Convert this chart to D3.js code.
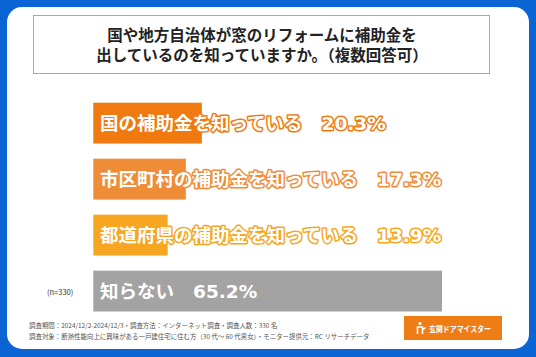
<!DOCTYPE html>
<html>
<head>
<meta charset="utf-8">
<script src="https://cdn.jsdelivr.net/npm/d3@7"></script>
<style>
  html, body { margin: 0; padding: 0; background: #0b64d4; }
  svg { display: block; font-family: "Noto Sans CJK JP", "Noto Sans", sans-serif; }
</style>
</head>
<body>
<div id="chart"></div>
<script>
// データ
const labels = ["国の補助金を知っている", "市区町村の補助金を知っている", "都道府県の補助金を知っている", "知らない"];
const values = [20.3, 17.3, 13.9, 65.2];
const colors = ["#f07a10", "#ef8c38", "#f6a621", "#a3a3a3"];
const titleLines = ["国や地方自治体が窓のリフォームに補助金を", "出しているのを知っていますか。（複数回答可）"];
const noteLines = [
  "調査期間：2024/12/2-2024/12/3・調査方法：インターネット調査・調査人数：330 名",
  "調査対象：断熱性能向上に興味がある一戸建住宅に住む方（30 代～ 60 代男女）・モニター提供元：RC リサーチデータ"
];

const width = 536, height = 357;
const svg = d3.select("#chart").append("svg").attr("width", width).attr("height", height);

// 背景
svg.append("rect").attr("width", width).attr("height", height).attr("fill", "#0b64d4");
svg.append("rect").attr("x", 7).attr("y", 7).attr("width", 522).attr("height", 342)
  .attr("rx", 15).attr("fill", "#fff");

// タイトル枠
svg.append("rect").attr("x", 33.5).attr("y", 15.5).attr("width", 456).attr("height", 58)
  .attr("fill", "#fff").attr("stroke", "#a8a8a8").attr("stroke-width", 1);
svg.append("g").selectAll("text").data(titleLines).join("text")
  .attr("x", 262).attr("y", (d, i) => 41 + i * 19.5)
  .attr("text-anchor", "middle").attr("font-size", 15.5).attr("font-weight", 700)
  .attr("fill", "#222").text(d => d);

// スケール
const x = d3.scaleLinear().domain([0, 65.2]).range([93.3, 442]);
const y = d3.scaleBand().domain(labels).range([102.7, 102.7 + 52.2 * 4]).paddingInner(0.27).paddingOuter(0);

const g = svg.append("g");
g.selectAll("rect.bar").data(labels).join("rect").attr("class", "bar")
  .attr("x", x(0)).attr("y", d => y(d))
  .attr("width", (d, i) => x(values[i]) - x(0))
  .attr("height", y.bandwidth())
  .attr("fill", (d, i) => colors[i]);

const lbl = g.selectAll("text.lbl").data(labels).join("text").attr("class", "lbl")
  .attr("x", 100).attr("y", d => y(d) + y.bandwidth() / 2 + 7)
  .attr("font-size", 18.5).attr("font-weight", 700)
  .attr("fill", "#fff")
  .attr("stroke", (d, i) => colors[i]).attr("stroke-width", 3)
  .attr("stroke-linejoin", "round").attr("paint-order", "stroke");
lbl.append("tspan").text(d => d);
lbl.append("tspan").attr("dx", 19).attr("font-family", "'DejaVu Sans', sans-serif")
  .text((d, i) => values[i].toFixed(1) + "%");

svg.append("text").attr("x", 47).attr("y", 295).attr("font-size", 7.5)
  .attr("fill", "#333").text("(n=330)");

// 注記
svg.append("g").selectAll("text").data(noteLines).join("text")
  .attr("x", 29).attr("y", (d, i) => 328 + i * 11)
  .attr("font-size", 6.45).attr("fill", "#555").text(d => d);

// ロゴ
svg.append("rect").attr("x", 404).attr("y", 316).attr("width", 98).attr("height", 24).attr("fill", "#ef7d16");
svg.append("text").attr("x", 429).attr("y", 332)
  .attr("font-size", 8).attr("font-weight", 700).attr("fill", "#fff")
  .attr("textLength", 62).attr("lengthAdjust", "spacingAndGlyphs").text("玄関ドアマイスター");
const icon = svg.append("g").attr("fill", "none").attr("stroke", "#fff").attr("stroke-width", 1.6);
icon.append("circle").attr("cx", 420).attr("cy", 323.5).attr("r", 1.6).attr("fill", "#fff").attr("stroke", "none");
icon.append("path").attr("d", "M417.5 334 V327 H422.5 V334 M422.5 330 L425.5 327.5");
</script>
</body>
</html>
